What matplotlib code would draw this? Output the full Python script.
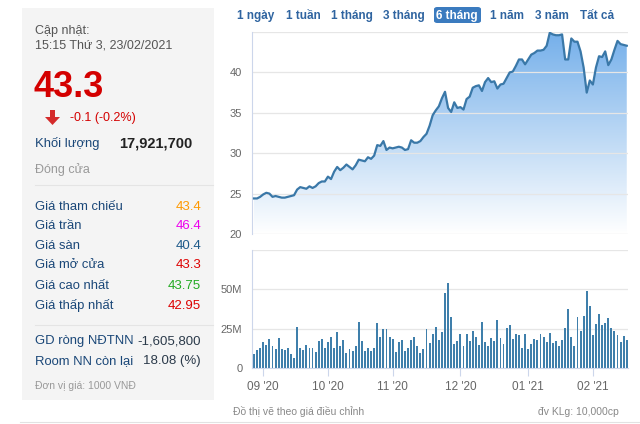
import matplotlib.pyplot as plt
import numpy as np
from matplotlib.colors import LinearSegmentedColormap
from matplotlib.patches import Rectangle, FancyBboxPatch, Polygon
from matplotlib.lines import Line2D

plt.rcParams['font.family'] = ['Liberation Sans', 'DejaVu Sans']

# daily close (1000 VND), 24/08/2020 - 23/02/2021
price = [24.4, 24.4, 24.6, 24.9, 25.1, 25.0, 24.6, 24.7, 24.6, 24.5,
         24.5, 24.6, 24.7, 24.8, 25.5, 25.8, 25.7, 25.6, 25.9, 25.7,
         25.9, 26.3, 26.5, 26.5, 27.1, 26.8, 27.7, 28.3, 27.9, 28.2,
         28.6, 28.3, 28.0, 28.5, 29.2, 29.1, 29.0, 29.5, 29.3, 29.7,
         31.0, 30.9, 31.5, 30.4, 30.7, 30.6, 30.7, 30.8, 30.7, 30.4,
         30.5, 31.6, 31.3, 31.3, 31.5, 32.0, 32.4, 33.4, 34.7, 35.3,
         35.8, 36.8, 37.6, 35.6, 35.1, 36.3, 35.6, 35.7, 35.4, 36.7,
         37.0, 38.1, 38.3, 38.4, 37.7, 38.8, 39.3, 38.8, 38.9, 38.0,
         38.5, 38.6, 39.3, 40.0, 40.1, 40.8, 41.6, 41.6, 41.0, 41.6,
         42.2, 42.4, 42.7, 42.7, 42.8, 43.3, 44.9, 44.7, 44.6, 44.6,
         44.7, 41.6, 41.6, 44.2, 43.8, 43.8, 42.6, 40.6, 37.5, 39.0,
         38.5, 40.6, 42.0, 41.9, 42.6, 40.9, 41.6, 42.8, 43.9, 43.5,
         43.4, 43.3]

# daily volume (millions of shares)
volume = [8.9, 11.4, 13.0, 16.7, 14.5, 18.4, 14.0, 11.8, 18.8, 11.8,
          11.4, 12.4, 8.9, 6.6, 26.0, 12.4, 11.4, 14.9, 12.4, 12.4,
          9.9, 17.1, 18.4, 12.4, 16.5, 19.6, 12.4, 22.9, 14.0, 18.0,
          9.3, 11.8, 10.5, 14.0, 29.5, 17.1, 10.5, 12.6, 10.5, 12.6,
          28.7, 20.0, 24.6, 24.6, 19.6, 18.2, 9.9, 16.7, 17.6, 11.0,
          12.6, 17.6, 20.0, 14.0, 9.3, 11.8, 24.6, 15.9, 21.9,
          25.8, 17.8, 22.9, 47.5, 54.3, 32.4, 15.5, 17.1, 21.3, 14.0,
          21.9, 17.1, 23.3, 20.0, 14.7, 29.5, 16.7, 14.0, 18.8, 17.1,
          30.2, 19.2, 15.5, 25.2, 27.1, 18.4, 21.9, 20.9, 13.0, 21.3, 11.8,
          15.5, 18.4, 17.8, 21.3, 19.6, 16.7, 22.5, 15.9, 17.1, 14.0,
          17.8, 25.2, 37.2, 20.0, 14.0, 32.4, 23.8, 33.1, 49.0, 39.5,
          20.9, 27.9, 34.3, 27.5, 28.7, 31.8, 25.2, 23.3, 20.9, 16.7,
          20.5, 17.8]

month_idx = [3, 24, 45, 67, 89, 110]
month_labels = ["09 '20", "10 '20", "11 '20", "12 '20", "01 '21", "02 '21"]

range_buttons = ['1 ngày', '1 tuần', '1 tháng', '3 tháng', '6 tháng', '1 năm', '3 năm', 'Tất cả']
active_button = '6 tháng'

info_labels = ['Giá tham chiếu', 'Giá trần', 'Giá sàn', 'Giá mở cửa', 'Giá cao nhất', 'Giá thấp nhất']
info_values = ['43.4', '46.4', '40.4', '43.3', '43.75', '42.95']
info_colors = ['#ff9900', '#ee00ee', '#1e5a8a', '#dd0000', '#22aa22', '#dd0000']

W, H = 640, 424
fig = plt.figure(figsize=(6.4, 4.24), dpi=100)


def fx(x):
    return x / W


def fy(y):
    return 1 - y / H


def txt(x, y, s, **kw):
    fig.text(fx(x), fy(y), s, va='baseline', **kw)


# left info panel
fig.add_artist(Rectangle((fx(22), fy(400)), (214 - 22) / W, (400 - 8) / H,
                         transform=fig.transFigure, facecolor='#f4f4f4', edgecolor='none'))
label_c = '#1a4778'
txt(35, 34, 'Cập nhật:', fontsize=9, color='#555555')
txt(35, 48, '15:15 Thứ 3, 23/02/2021', fontsize=9, color='#555555')
txt(34, 97, '43.3', fontsize=26, fontweight='bold', color='#d40000')
arrow = Polygon([(fx(50), fy(110)), (fx(55), fy(110)), (fx(55), fy(117)), (fx(60), fy(117)),
                 (fx(52.5), fy(125)), (fx(45), fy(117)), (fx(50), fy(117))],
                closed=True, transform=fig.transFigure, facecolor='#d42a2a', edgecolor='none')
fig.add_artist(arrow)
txt(70, 121, '-0.1 (-0.2%)', fontsize=9, color='#d40000')
txt(35, 147, 'Khối lượng', fontsize=9.4, color=label_c)
txt(192, 147, '17,921,700', fontsize=10.5, fontweight='bold', color='#222222', ha='right')
txt(35, 173, 'Đóng cửa', fontsize=9, color='#999999')
fig.add_artist(Line2D([fx(35), fx(213)], [fy(185), fy(185)], transform=fig.transFigure,
                      color='#e4e4e4', lw=0.8))
row_y = [210, 229, 249, 268, 289, 309]
for lab, val, col, y in zip(info_labels, info_values, info_colors, row_y):
    txt(35, y, lab, fontsize=9.4, color=label_c)
    txt(201, y, val, fontsize=9.5, color=col, ha='right')
fig.add_artist(Line2D([fx(35), fx(213)], [fy(325), fy(325)], transform=fig.transFigure,
                      color='#e4e4e4', lw=0.8))
txt(35, 344, 'GD ròng NĐTNN', fontsize=9.4, color=label_c)
txt(201, 344, '-1,605,800', fontsize=9.5, color='#2b3a4a', ha='right')
txt(35, 364, 'Room NN còn lại', fontsize=9.4, color=label_c)
txt(201, 364, '18.08 (%)', fontsize=9.5, color='#2b3a4a', ha='right')
txt(35, 389, 'Đơn vị giá: 1000 VNĐ', fontsize=7.5, color='#999999')

# range buttons
btn_x = [256, 303, 352, 404, 457, 507, 552, 597]
for b, x in zip(range_buttons, btn_x):
    if b == active_button:
        fig.add_artist(FancyBboxPatch((fx(434), fy(23)), 47 / W, 16 / H,
                                      boxstyle='round,pad=0,rounding_size=0.005',
                                      transform=fig.transFigure, facecolor='#3b7bbf',
                                      edgecolor='none'))
        txt(x, 19, b, fontsize=8.5, fontweight='bold', color='white', ha='center')
    else:
        txt(x, 19, b, fontsize=8.5, fontweight='bold', color='#2f64a0', ha='center')

xs = np.arange(len(price))
xlo, xhi = -0.65, 121.4
grid_c = '#e6e6e6'
axis_c = '#ccd6eb'

# price chart
ax1 = fig.add_axes([fx(252), fy(234), 376 / W, 202 / H])
cmap = LinearSegmentedColormap.from_list('fill', ['#ffffff', '#74afea'])
grad = np.linspace(0, 1, 256).reshape(-1, 1)
im = ax1.imshow(grad, origin='lower', extent=[xlo, xhi, 20, 45], aspect='auto',
                cmap=cmap, zorder=1)
clip = Polygon(list(zip(xs, price)) + [(xs[-1], 20), (xs[0], 20)], closed=True,
               facecolor='none', edgecolor='none', transform=ax1.transData)
ax1.add_patch(clip)
im.set_clip_path(clip)
ax1.plot(xs, price, color='#3a78a8', lw=1.6, zorder=3)
ax1.set_xlim(xlo, xhi)
ax1.set_ylim(20, 45)
ax1.set_yticks([20, 25, 30, 35, 40, 45])
ax1.set_yticklabels(['20', '25', '30', '35', '40', ''])
ax1.set_xticks([])
ax1.grid(axis='y', color=grid_c, lw=0.9, zorder=0)
ax1.tick_params(axis='y', length=0, pad=7, labelsize=8, labelcolor='#666666')
for s in ['top', 'right', 'bottom']:
    ax1.spines[s].set_visible(False)
ax1.spines['left'].set_color(axis_c)

# volume chart
ax2 = fig.add_axes([fx(252), fy(368), 376 / W, 118 / H])
ax2.bar(xs, volume, width=0.62, color='#3f7fab', zorder=2)
ax2.set_xlim(xlo, xhi)
ax2.set_ylim(0, 75)
ax2.set_yticks([0, 25, 50, 75])
ax2.set_yticklabels(['0', '25M', '50M', ''])
ax2.set_xticks(month_idx)
ax2.set_xticklabels(month_labels)
ax2.grid(axis='y', color=grid_c, lw=0.9, zorder=0)
ax2.tick_params(axis='y', length=0, pad=7, labelsize=8, labelcolor='#666666')
ax2.tick_params(axis='x', length=6, color=axis_c, pad=3, labelsize=8.5, labelcolor='#666666')
for s in ['top', 'right']:
    ax2.spines[s].set_visible(False)
ax2.spines['left'].set_color(axis_c)
ax2.spines['bottom'].set_color(axis_c)

txt(233, 415, 'Đồ thị vẽ theo giá điều chỉnh', fontsize=7.5, color='#888888')
txt(619, 415, 'đv KLg: 10,000cp', fontsize=7.5, color='#888888', ha='right')
fig.add_artist(Line2D([fx(20), fx(640)], [fy(422), fy(422)], transform=fig.transFigure,
                      color='#e2e2e2', lw=0.8))

fig.savefig('out.png', dpi=100)
